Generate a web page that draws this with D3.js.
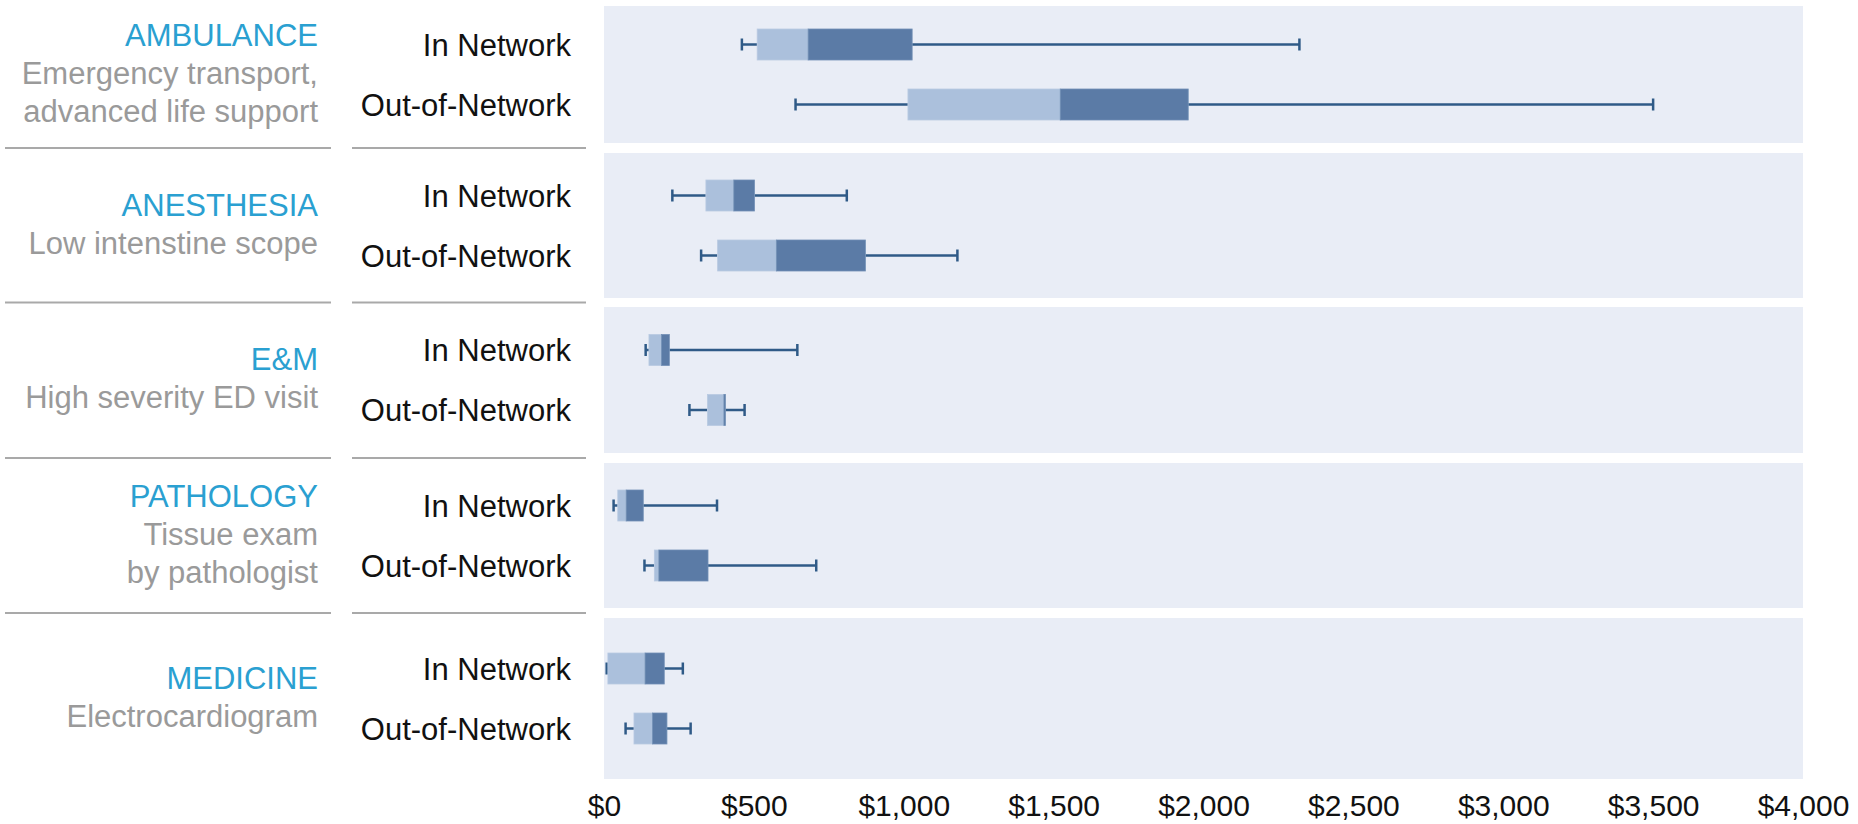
<!DOCTYPE html>
<html>
<head>
<meta charset="utf-8">
<script src="https://cdn.jsdelivr.net/npm/d3@7"></script>
<style>
  html, body { margin: 0; padding: 0; background: #ffffff; }
  svg { display: block; font-family: "Liberation Sans", Arial, Helvetica, sans-serif; }
</style>
</head>
<body>
<svg id="chart" width="1858" height="824"></svg>
<script>
// ---- data ----
const categories = ["AMBULANCE", "ANESTHESIA", "E&M", "PATHOLOGY", "MEDICINE"];
const descriptions = [
  ["Emergency transport,", "advanced life support"],
  ["Low intenstine scope"],
  ["High severity ED visit"],
  ["Tissue exam", "by pathologist"],
  ["Electrocardiogram"]
];
const networks = ["In Network", "Out-of-Network"];
// [min, q1, median, q3, max]
const inNetwork = [
  [460, 511, 681, 1028, 2320],
  [228, 340, 433, 502, 810],
  [139, 150, 192, 218, 645],
  [32, 46, 74, 131, 377],
  [9, 13, 137, 201, 263]
];
const outNetwork = [
  [639, 1014, 1522, 1949, 3500],
  [324, 379, 575, 872, 1179],
  [285, 345, 400, 405, 469],
  [135, 168, 183, 347, 708],
  [72, 100, 162, 210, 289]
];
const xTicks = [0, 500, 1000, 1500, 2000, 2500, 3000, 3500, 4000];

// ---- layout ----
const plotLeft = 604, plotRight = 1803;
const panelExtent = [[6, 143], [153, 298], [307, 453], [463, 608], [618, 779]];
const rowGap = 60;
const boxH = 31, capH = 12;
const colors = {
  panel: "#e9edf6", light: "#abc0dc", dark: "#5b7ba6", whisker: "#2f5a87",
  cat: "#2aa0d1", desc: "#9a9a9a", label: "#111111", sep: "#a9a9a9"
};

const svg = d3.select("#chart");
const x = d3.scaleLinear().domain([0, 4000]).range([plotLeft, plotRight]);

categories.forEach((cat, i) => {
  const [y0, y1] = panelExtent[i];
  const pc = (y0 + y1) / 2;
  const y = d3.scalePoint().domain(networks).range([pc - rowGap / 2, pc + rowGap / 2]);
  const g = svg.append("g");

  g.append("rect")
    .attr("x", x(0)).attr("y", y0)
    .attr("width", x(4000) - x(0)).attr("height", y1 - y0)
    .attr("fill", colors.panel);

  const rows = [
    { net: networks[0], v: inNetwork[i] },
    { net: networks[1], v: outNetwork[i] }
  ];

  rows.forEach(r => {
    const cy = y(r.net);
    const [mn, q1, md, q3, mx] = r.v;
    const wg = g.append("g").attr("stroke", colors.whisker).attr("stroke-width", 2.5);
    wg.append("line").attr("x1", x(mn)).attr("x2", x(q1)).attr("y1", cy).attr("y2", cy);
    wg.append("line").attr("x1", x(q3)).attr("x2", x(mx)).attr("y1", cy).attr("y2", cy);
    wg.append("line").attr("x1", x(mn)).attr("x2", x(mn)).attr("y1", cy - capH / 2).attr("y2", cy + capH / 2);
    wg.append("line").attr("x1", x(mx)).attr("x2", x(mx)).attr("y1", cy - capH / 2).attr("y2", cy + capH / 2);

    g.append("rect")
      .attr("x", x(q1)).attr("y", cy - boxH / 2)
      .attr("width", x(md) - x(q1)).attr("height", boxH)
      .attr("fill", colors.light)
      .attr("stroke", "#b9cae2").attr("stroke-width", 0.8);
    g.append("rect")
      .attr("x", x(md)).attr("y", cy - boxH / 2)
      .attr("width", x(q3) - x(md)).attr("height", boxH)
      .attr("fill", colors.dark)
      .attr("stroke", "#7290b6").attr("stroke-width", 0.8);

    g.append("text")
      .attr("x", 571).attr("y", cy + 11)
      .attr("text-anchor", "end")
      .attr("font-size", 31)
      .attr("fill", colors.label)
      .text(r.net);
  });

  // category + description block
  const lines = [cat].concat(descriptions[i]);
  const lh = 38;
  const startY = pc - 2 - (lines.length - 1) * lh / 2 + 11;
  lines.forEach((t, k) => {
    g.append("text")
      .attr("x", 318).attr("y", startY + k * lh)
      .attr("text-anchor", "end")
      .attr("font-size", 31)
      .attr("fill", k === 0 ? colors.cat : colors.desc)
      .text(t);
  });

  // separators
  if (i < categories.length - 1) {
    const sy = (y1 + panelExtent[i + 1][0]) / 2;
    svg.append("line").attr("x1", 5).attr("x2", 331).attr("y1", sy).attr("y2", sy)
      .attr("stroke", colors.sep).attr("stroke-width", 2);
    svg.append("line").attr("x1", 352).attr("x2", 586).attr("y1", sy).attr("y2", sy)
      .attr("stroke", colors.sep).attr("stroke-width", 2);
  }
});

// x axis (labels only)
const axis = d3.axisBottom(x)
  .tickValues(xTicks)
  .tickSize(0)
  .tickPadding(0)
  .tickFormat(d => "$" + d3.format(",")(d));
const ax = svg.append("g").attr("transform", "translate(0,794)").call(axis);
ax.select(".domain").remove();
ax.selectAll("text")
  .attr("font-size", 30)
  .attr("fill", "#111")
  .attr("dy", "0.72em")
  .attr("y", 0)
  .style("font-family", "'Liberation Sans', Arial, sans-serif");
</script>
</body>
</html>
